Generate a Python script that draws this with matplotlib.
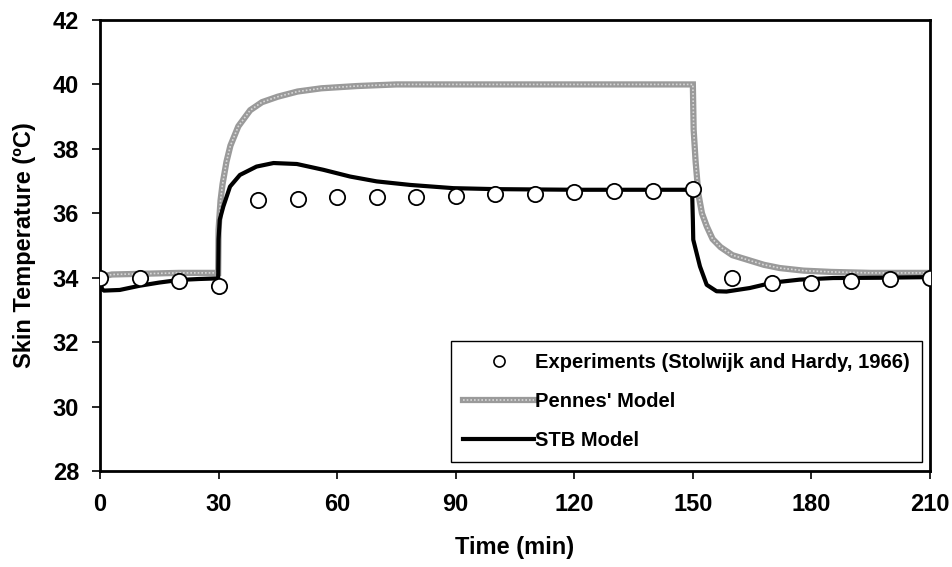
import matplotlib
matplotlib.use("Agg")
import matplotlib.pyplot as plt
from matplotlib.legend_handler import HandlerTuple

# experimental points (Stolwijk and Hardy, 1966)
exp_t = [0, 10, 20, 30, 40, 50, 60, 70, 80, 90, 100, 110, 120, 130, 140, 150,
         160, 170, 180, 190, 200, 210]
exp_T = [34.0, 34.0, 33.9, 33.75, 36.4, 36.45, 36.5, 36.5, 36.5, 36.55, 36.6, 36.6,
         36.65, 36.7, 36.7, 36.75, 34.0, 33.85, 33.85, 33.9, 33.95, 34.0]

# Pennes' model curve
pennes_t = [0, 1, 3, 10, 20, 29.9, 30, 30.5, 31, 32, 33, 35, 38, 41, 45, 50, 56, 65,
            75, 150, 150.2, 150.7, 151.4, 152.3, 153.5, 155, 157, 160, 164, 168, 172,
            178, 185, 195, 210]
pennes_T = [33.95, 34.05, 34.1, 34.12, 34.15, 34.15, 35.5, 36.4, 36.9, 37.6, 38.1,
            38.7, 39.2, 39.45, 39.62, 39.78, 39.88, 39.95, 40.0, 40.0, 38.6, 37.6,
            36.6, 36.0, 35.6, 35.2, 34.95, 34.7, 34.55, 34.4, 34.3, 34.22, 34.18,
            34.15, 34.15]

# STB model curve
stb_t = [0, 0.5, 1, 5, 10, 15, 20, 25, 29.9, 30, 30.3, 31.2, 32.9, 35.4, 39.6, 43.9,
         49.8, 56.5, 63.3, 70, 78.5, 89.4, 100, 120, 149.8, 150, 150.1, 151.8, 153.5,
         156, 158.5, 164.4, 170.3, 177, 185.5, 198, 211]
stb_T = [34.0, 33.65, 33.6, 33.62, 33.75, 33.85, 33.93, 33.96, 33.98, 35.2, 35.8,
         36.21, 36.83, 37.19, 37.45, 37.56, 37.53, 37.35, 37.14, 36.99, 36.88, 36.78,
         36.75, 36.73, 36.73, 35.8, 35.18, 34.35, 33.78, 33.58, 33.57, 33.68, 33.85,
         33.94, 33.99, 34.0, 34.02]

x_ticks = [0, 30, 60, 90, 120, 150, 180, 210]
y_ticks = [28, 30, 32, 34, 36, 38, 40, 42]

plt.rcParams['font.family'] = ['Liberation Sans', 'DejaVu Sans']
plt.rcParams['font.weight'] = 'bold'

fig = plt.figure(figsize=(9.53, 5.67), dpi=100)
ax = fig.add_axes([100 / 953, 96 / 567, 830 / 953, 451 / 567])

ax.plot(exp_t, exp_T, 'o', ms=11, mfc='white', mec='black', mew=1.3, zorder=5)
p1, = ax.plot(pennes_t, pennes_T, color='#9a9a9a', lw=4.5, solid_joinstyle='miter')
p2, = ax.plot(pennes_t, pennes_T, color='#d8d8d8', lw=1.2, ls=(0, (1, 1.2)))
s, = ax.plot(stb_t, stb_T, color='black', lw=3)

ax.set_xlim(0, 210)
ax.set_ylim(28, 42)
ax.set_xticks(x_ticks)
ax.set_yticks(y_ticks)
ax.tick_params(direction='out', length=6, width=1.2, labelsize=17)
ax.tick_params(axis='x', pad=10)
ax.tick_params(axis='y', pad=9)
for sp in ax.spines.values():
    sp.set_linewidth(2)

ax.set_xlabel('Time (min)', fontsize=17, fontweight='bold', labelpad=14)
ax.set_ylabel('Skin Temperature (ºC)', fontsize=17, fontweight='bold', labelpad=12)

exp_handle = plt.Line2D([], [], ls='none', marker='o', ms=8, mfc='white',
                        mec='black', mew=1.2)
leg = ax.legend([exp_handle, (p1, p2), s],
                ['Experiments (Stolwijk and Hardy, 1966)', "Pennes' Model", 'STB Model'],
                handler_map={tuple: HandlerTuple(ndivide=1, pad=0)},
                loc='lower right', bbox_to_anchor=(0.99, 0.02), borderaxespad=0,
                fancybox=False, edgecolor='black', framealpha=1,
                prop={'weight': 'bold', 'size': 14.5}, handlelength=3.5,
                handletextpad=0.05, labelspacing=1.0, borderpad=0.6)
leg.get_frame().set_linewidth(1)

fig.savefig('out.png', dpi=100)
